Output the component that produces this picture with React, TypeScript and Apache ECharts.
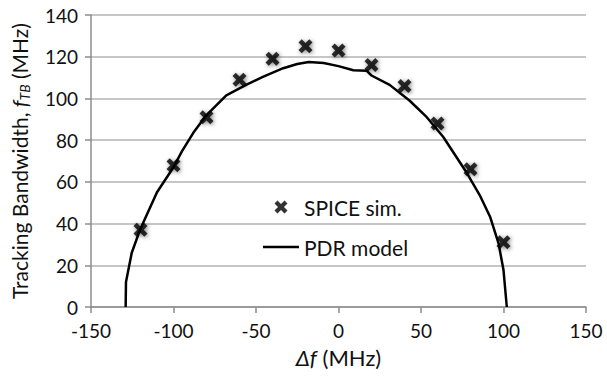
import React, { useEffect, useRef } from "react";
import * as echarts from "echarts";

const xTicks = [-150, -100, -50, 0, 50, 100, 150];
const yTicks = [0, 20, 40, 60, 80, 100, 120, 140];

const spiceX = [-120, -100, -80, -60, -40, -20, 0, 20, 40, 60, 80, 100];
const spiceY = [37, 68, 91, 109, 119, 125, 123, 116, 106, 88, 66, 31];

const pdrX = [-129, -128.8, -125.3, -120.3, -110, -100, -95, -88, -80, -68, -56, -45.5, -33.5, -25, -18, -9, 0, 9, 17, 20, 31, 43, 53.5, 63.5, 78, 86, 92, 97, 100, 102];
const pdrY = [0, 12, 26, 37, 55, 67, 74.5, 83.5, 92, 101.5, 106.5, 110.5, 114.5, 116.5, 117.5, 117, 115.5, 113.5, 113.3, 111, 106.5, 99, 91, 81.5, 64, 53, 43, 30.5, 17.7, 0];

const XMARK = "path://M0,2.3 L2.3,0 L5,2.7 L7.7,0 L10,2.3 L7.3,5 L10,7.7 L7.7,10 L5,7.3 L2.3,10 L0,7.7 L2.7,5 Z";
const LINEICON = "path://M0,0 L36,0 L36,2.5 L0,2.5 Z";
const FONT = "Lato";
const TXT = "#111";

export default function App() {
  const ref = useRef<HTMLDivElement>(null);
  useEffect(() => {
    const chart = echarts.init(ref.current!, null, { renderer: "svg" });
    chart.setOption({
      animation: false,
      backgroundColor: "#ffffff",
      textStyle: { fontFamily: FONT },
      grid: { left: 91, right: 21, top: 15, bottom: 73 },
      legend: {
        orient: "vertical",
        left: 258,
        top: 189,
        itemWidth: 36,
        itemHeight: 13,
        itemGap: 14,
        textStyle: { fontFamily: FONT, fontSize: 21, color: TXT, lineHeight: 26 },
        data: [
          { name: "SPICE sim.", icon: XMARK, itemStyle: { color: "#000" } },
          { name: "PDR model", icon: LINEICON, itemStyle: { color: "#000" } },
        ],
      },
      xAxis: {
        type: "value",
        min: xTicks[0],
        max: xTicks[xTicks.length - 1],
        interval: 50,
        name: "{i|Δf}{a| (MHz)}",
        nameLocation: "middle",
        nameGap: 39,
        nameTextStyle: {
          rich: {
            i: { fontFamily: FONT, fontSize: 22, fontStyle: "italic", color: TXT },
            a: { fontFamily: FONT, fontSize: 22, color: TXT },
          },
        },
        axisLine: { show: true, onZero: false, lineStyle: { color: "#8c8c8c", width: 1.5 } },
        axisTick: { show: true, inside: false, length: 6, lineStyle: { color: "#8c8c8c", width: 1.5 } },
        axisLabel: { fontFamily: FONT, fontSize: 19, color: TXT, margin: 14 },
        splitLine: { show: false },
      },
      yAxis: {
        type: "value",
        min: yTicks[0],
        max: yTicks[yTicks.length - 1],
        interval: 20,
        name: "{a|Tracking Bandwidth, }{i|f}{s|TB}{a| (MHz)}",
        nameLocation: "middle",
        nameGap: 60,
        nameTextStyle: {
          rich: {
            a: { fontFamily: FONT, fontSize: 21, color: TXT },
            i: { fontFamily: FONT, fontSize: 21, fontStyle: "italic", color: TXT },
            s: { fontFamily: FONT, fontSize: 14, fontStyle: "italic", color: TXT, padding: [9, 0, 0, 0] },
          },
        },
        axisLine: { show: true, onZero: false, lineStyle: { color: "#8c8c8c", width: 1.5 } },
        axisTick: { show: true, inside: false, length: 6, lineStyle: { color: "#8c8c8c", width: 1.5 } },
        axisLabel: { fontFamily: FONT, fontSize: 19, color: TXT, margin: 13 },
        splitLine: { show: true, lineStyle: { color: "#b3b3b3", width: 1.5 } },
      },
      series: [
        {
          name: "PDR model",
          type: "line",
          data: pdrX.map((x, i) => [x, pdrY[i]]),
          symbol: "none",
          lineStyle: { color: "#000", width: 2.5 },
          itemStyle: { color: "#000" },
          z: 2,
        },
        {
          name: "SPICE sim.",
          type: "scatter",
          data: spiceX.map((x, i) => [x, spiceY[i]]),
          symbol: XMARK,
          symbolSize: 14,
          itemStyle: {
            color: "#000",
            shadowBlur: 4,
            shadowColor: "rgba(0,0,0,0.6)",
            shadowOffsetX: 1,
            shadowOffsetY: 1,
          },
          z: 3,
        },
      ],
    });
    return () => chart.dispose();
  }, []);
  return <div ref={ref} style={{ width: 607, height: 380, position: "absolute", left: 0, top: 0 }} />;
}
